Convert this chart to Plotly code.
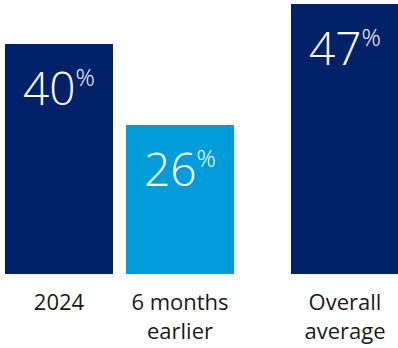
import plotly.graph_objects as go

categories = ["2024", "6 months earlier", "Overall average"]
tick_labels = ["2024", "6 months<br>earlier", "Overall<br>average"]
values = [40, 26, 47]
colors = ["#012169", "#009CDA", "#012169"]

NUM_FONT = dict(family="Open Sans", size=46, color="white", weight=300)

fig = go.Figure()
axes = ["x", "x", "x2"]
slot = [0, 1, 0]
for c, v, col, ax, s in zip(categories, values, colors, axes, slot):
    fig.add_trace(go.Bar(x=[c], y=[v], marker=dict(color=col, line=dict(width=0)),
                         width=0.8926, xaxis=ax, yaxis="y", showlegend=False,
                         hoverinfo="skip"))
    fig.add_annotation(x=s, y=v, xref=ax, yref="y", yanchor="top", yshift=-10,
                       showarrow=False, font=NUM_FONT,
                       text=f"{v}<sup><span style='font-size:24px'>%</span></sup>")

tickfont = dict(family="Open Sans", size=22, color="#1a1a1a")
common = dict(type="category", showgrid=False, zeroline=False, showline=False,
              ticks="", tickfont=tickfont, anchor="y", ticklabelstandoff=13)
fig.update_layout(
    width=398, height=348,
    margin=dict(l=0, r=0, t=0, b=74),
    paper_bgcolor="white", plot_bgcolor="white",
    bargap=0,
    xaxis=dict(domain=[0, 240/398], range=[-59/121, 181/121],
               categoryorder="array", categoryarray=categories[:2],
               tickvals=categories[:2], ticktext=tick_labels[:2], **common),
    xaxis2=dict(domain=[284/398, 1], range=[-61/121, 53/121],
                categoryorder="array", categoryarray=categories[2:],
                tickvals=categories[2:], ticktext=tick_labels[2:], **common),
    yaxis=dict(range=[0, 274/5.74], visible=False, showgrid=False, zeroline=False,
               domain=[0, 1]),
)
fig.write_html("out.html")
